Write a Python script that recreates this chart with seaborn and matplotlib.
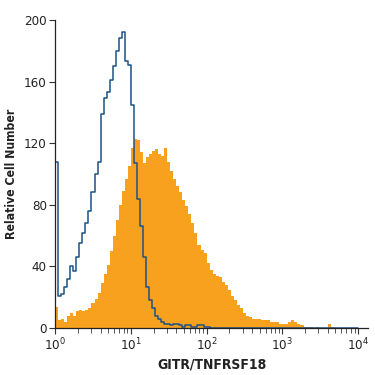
import numpy as np
import pandas as pd
import seaborn as sns
import matplotlib.pyplot as plt
from matplotlib.ticker import LogLocator, NullFormatter

# histogram channels: 25 bins per decade, 10^0 .. 10^4
bins_per_decade = 25
n_bins = 100

# isotype control (blue outline), first bins, rest empty
isotype = [108, 21, 22, 27, 32, 40, 37, 46, 55, 62,
           68, 76, 88, 100, 108, 139, 149, 153, 161, 170,
           180, 188, 192, 173, 171, 145, 107, 84, 66, 46,
           27, 18, 13, 8, 6, 4, 3, 3, 2, 3,
           3, 2, 1, 2, 2, 1, 1, 2, 2, 1,
           1]
isotype = isotype + [0] * (n_bins - len(isotype))

# GITR/TNFRSF18 stained cells (orange filled)
gitr = [14, 5, 6, 4, 8, 10, 8, 11, 12, 11,
        12, 13, 16, 19, 23, 29, 35, 41, 50, 60,
        70, 80, 89, 97, 105, 117, 123, 122, 114, 107,
        111, 113, 115, 116, 113, 112, 117, 108, 102, 97,
        92, 88, 83, 79, 74, 68, 62, 54, 51, 49,
        42, 38, 35, 34, 33, 30, 28, 25, 21, 18,
        15, 13, 10, 8, 7, 6, 6, 6, 5, 5,
        5, 4, 4, 4, 3, 3, 3, 4, 5, 4,
        3, 2, 1, 1, 1, 0, 1, 0, 0, 0,
        3, 1]
gitr = gitr + [0] * (n_bins - len(gitr))

df = pd.DataFrame({
    "intensity": 10 ** ((np.arange(n_bins) + 0.5) / bins_per_decade),
    "isotype": isotype,
    "gitr": gitr,
})

orange = "#F7A11F"
blue = "#1C5287"

sns.set_style("ticks")
plt.rcParams["font.family"] = ["DejaVu Sans"]
plt.rcParams["font.stretch"] = "condensed"
plt.rcParams["mathtext.fontset"] = "custom"
plt.rcParams["mathtext.rm"] = "DejaVu Sans:stretch=condensed"
plt.rcParams["mathtext.it"] = "DejaVu Sans:stretch=condensed"

fig = plt.figure(figsize=(3.75, 3.75), dpi=100)
ax = fig.add_axes([0.147, 0.125, 0.834, 0.822])

hist_kws = dict(bins=n_bins, binrange=(0, 4), log_scale=True, element="step", ax=ax)
sns.histplot(data=df, x="intensity", weights="gitr", fill=True, color=orange,
             alpha=1, linewidth=0, **hist_kws)
sns.histplot(data=df, x="intensity", weights="isotype", fill=False, color=blue,
             linewidth=1.1, **hist_kws)

ax.set_xlim(1, 10 ** 4.13)
ax.set_ylim(0, 200)
ax.set_yticks([0, 40, 80, 120, 160, 200])
ax.xaxis.set_major_locator(LogLocator(base=10, numticks=10))
ax.xaxis.set_minor_locator(LogLocator(base=10, subs=np.arange(2, 10), numticks=50))
ax.xaxis.set_minor_formatter(NullFormatter())

sns.despine(ax=ax)
for s in ["left", "bottom"]:
    ax.spines[s].set_linewidth(0.9)
    ax.spines[s].set_color("#222222")

ax.tick_params(axis="both", which="major", length=4.5, width=0.8, color="#333333",
               labelsize=9.5, labelcolor="#222222", pad=1.5)
ax.tick_params(axis="x", which="minor", length=3.5, width=0.7, color="#555555")

ax.set_xlabel("GITR/TNFRSF18", fontsize=10, fontweight="bold", labelpad=3, color="#222222")
ax.set_ylabel("Relative Cell Number", fontsize=8.8, fontweight="bold", labelpad=4, color="#222222")

fig.savefig("out.png", dpi=100)
